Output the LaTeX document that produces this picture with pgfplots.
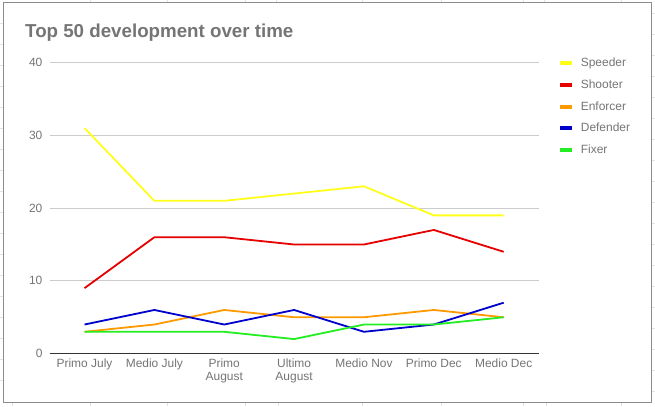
\documentclass[border=0pt]{standalone}
\usepackage{pgfplots}
\pgfplotsset{compat=1.18}
\usepackage{fontspec}
\setmainfont{Liberation Sans}
\definecolor{txt}{HTML}{757575}
\definecolor{cY}{HTML}{FFFF1A}
\definecolor{cR}{HTML}{E60000}
\definecolor{cO}{HTML}{FF9900}
\definecolor{cB}{HTML}{0000CC}
\definecolor{cG}{HTML}{22EE22}
\definecolor{sheet}{HTML}{E2E2E2}
\begin{document}
\begin{tikzpicture}[x=1bp,y=1bp]
\useasboundingbox (0,0) rectangle (655,406);
\fill[white] (0,0) rectangle (655,406);
\foreach \yy in {23.3,44.3,65.3,86.3,107.3,128.3,149.3,170.3,191.3,212.3,233.3,254.3,275.3,296.3,317.3,338.3,359.3,380.3}
  {\draw[sheet,line width=0.8bp] (0,406-\yy) -- (3,406-\yy);}
\foreach \yy in {13.3,34.3,55.3,76.3,97.3,118.3,139.3,160.3,181.3,202.3,223.3,244.3,265.3,286.3,307.3,328.3,349.3,370.3,391.3}
  {\draw[sheet,line width=0.8bp] (651,406-\yy) -- (655,406-\yy);}
\foreach \xx in {90,167,245,276,362,441,523,544,621}
  {\draw[sheet,line width=0.8bp] (\xx,406) -- (\xx,403.5);}
\foreach \xx in {12.5,90,167,245,278,362,441,523,546,621}
  {\draw[sheet,line width=0.8bp] (\xx,0) -- (\xx,3.5);}
\draw[black!45, line width=1bp] (3.5,3.5) rectangle (651,403.5);
\node[anchor=base west, font=\fontsize{18.8}{20}\selectfont\bfseries, text=txt, inner sep=0] at (25,368.5) {Top 50 development over time};
\begin{axis}[
  at={(71,72)}, anchor=south west,
  scale only axis, width=489bp, height=291bp,
  xmin=-0.5, xmax=6.5, ymin=0, ymax=40,
  axis line style={draw=none},
  major tick length=0,
  xtick={0,...,6},
  xticklabels={Primo July, Medio July, {Primo\\August}, {Ultimo\\August}, Medio Nov, Primo Dec, Medio Dec},
  ytick={0,10,20,30,40},
  ymajorgrids,
  grid style={draw=black!20, line width=0.8bp},
  /pgf/number format/assume math mode=true,
  xticklabel style={align=center, font=\fontsize{12}{12.5}\selectfont, text=txt, inner sep=0, anchor=north, yshift=-5.5bp},
  yticklabel style={font=\fontsize{12}{13}\selectfont, text=txt, inner sep=0, anchor=east, xshift=-7bp},
  legend cell align=left,
  legend style={at={(axis description cs:1.039,1.023)}, anchor=north west, draw=none, fill=none, inner sep=0,
    font=\fontsize{12}{13}\selectfont, text=txt, row sep=7.6bp,
    /tikz/every odd column/.append style={column sep=5bp}},
  legend image code/.code={\draw[line width=4bp,#1] (0bp,0bp) -- (12bp,0bp);},
  every axis plot/.append style={line width=1.8bp, mark=none, line join=round},
  clip=false,
]
\addplot[cY] coordinates {(0,31) (1,21) (2,21) (3,22) (4,23) (5,19) (6,19)};
\addlegendentry{Speeder}
\addplot[cR] coordinates {(0,9) (1,16) (2,16) (3,15) (4,15) (5,17) (6,14)};
\addlegendentry{Shooter}
\addplot[cO] coordinates {(0,3) (1,4) (2,6) (3,5) (4,5) (5,6) (6,5)};
\addlegendentry{Enforcer}
\addplot[cB] coordinates {(0,4) (1,6) (2,4) (3,6) (4,3) (5,4) (6,7)};
\addlegendentry{Defender}
\addplot[cG] coordinates {(0,3) (1,3) (2,3) (3,2) (4,4) (5,4) (6,5)};
\addlegendentry{Fixer}
\draw[black!80, line width=1bp] (axis cs:-0.5,0) -- (axis cs:6.5,0);
\end{axis}
\end{tikzpicture}
\end{document}
